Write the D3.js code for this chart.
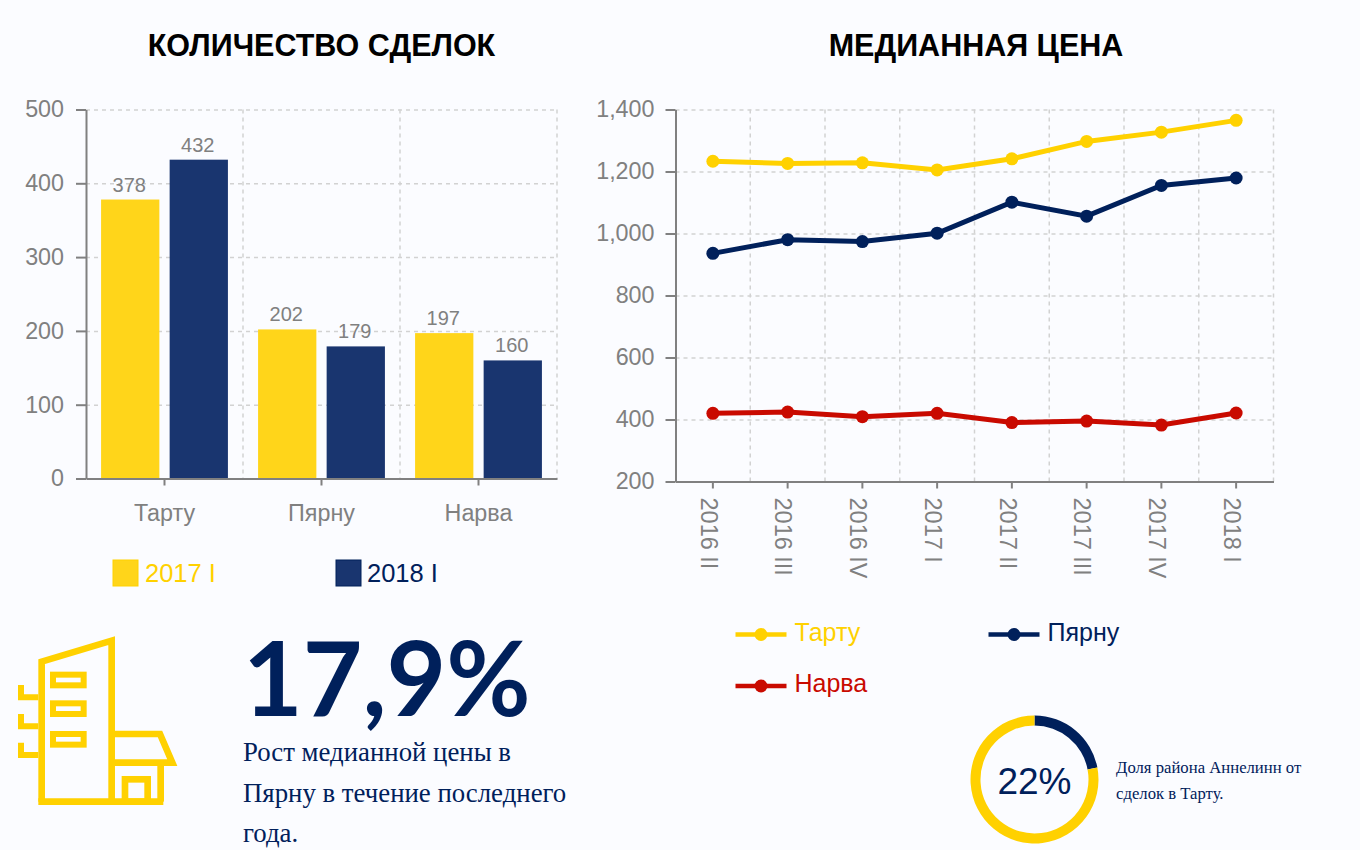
<!DOCTYPE html>
<html>
<head>
<meta charset="utf-8">
<script src="https://cdn.jsdelivr.net/npm/d3@7"></script>
<style>
  html, body { margin: 0; padding: 0; background: #fbfcff; }
  svg { display: block; font-family: "Liberation Sans", sans-serif; }
  .grid line { stroke: #d2d2d2; stroke-width: 1.5; stroke-dasharray: 4 4; }
  .grid path { display: none; }
  .axis path, .axis line { stroke: #808080; stroke-width: 2; }
  .axis text { fill: #808080; font-size: 23.3px; font-family: "Liberation Sans", sans-serif; }
</style>
</head>
<body>
<svg id="canvas" width="1360" height="850"></svg>
<script>
const canvas = d3.select('#canvas');
const yellow = '#ffd100';
const navy = '#00205b';
const red = '#c90a00';

// Bar chart data
const cities = ['Тарту', 'Пярну', 'Нарва'];
const barSeries = ['2017 I', '2018 I'];
const deals2017 = [378, 202, 197];
const deals2018 = [432, 179, 160];
const dealTicks = [0, 100, 200, 300, 400, 500];

// Line chart data
const quarters = ['2016 II', '2016 III', '2016 IV', '2017 I', '2017 II', '2017 III', '2017 IV', '2018 I'];
const priceTartu = [1233, 1226, 1228, 1205, 1241, 1297, 1327, 1365];
const priceParnu = [936, 980, 974, 1001, 1101, 1056, 1155, 1179];
const priceNarva = [420, 424, 409, 420, 390, 395, 382, 421];
const priceTicks = [200, 400, 600, 800, 1000, 1200, 1400];

// Donut data
const donutShare = [22, 78];

// Titles
canvas.append('text').attr('x', 321.5).attr('y', 56)
  .attr('text-anchor', 'middle').style('font-size', '30.5px').style('font-weight', 'bold')
  .style('fill', '#000').text('КОЛИЧЕСТВО СДЕЛОК');
canvas.append('text').attr('x', 976).attr('y', 56)
  .attr('text-anchor', 'middle').style('font-size', '30.5px').style('font-weight', 'bold')
  .style('fill', '#000').text('МЕДИАННАЯ ЦЕНА');

// ---- Bars ----
const barLeft = 86;
const barRight = 557;
const barTop = 109.5;
const barBottom = 478.5;
const xCity = d3.scaleBand().domain(cities).range([barLeft, barRight]);
const xSeries = d3.scaleBand().domain(barSeries).range([0, xCity.bandwidth()])
  .paddingInner(0.15).paddingOuter(0.22);
const yDeals = d3.scaleLinear().domain([0, 500]).range([barBottom, barTop]);

const barChart = canvas.append('g');
barChart.append('g').attr('class', 'grid')
  .attr('transform', `translate(${barLeft}, 0)`)
  .call(d3.axisLeft(yDeals).tickValues(dealTicks).tickSize(-(barRight - barLeft)).tickFormat(''));
barChart.append('g').attr('class', 'grid')
  .selectAll('line')
  .data(cities)
  .enter()
  .append('line')
  .attr('x1', (d) => xCity(d) + xCity.bandwidth())
  .attr('x2', (d) => xCity(d) + xCity.bandwidth())
  .attr('y1', barTop)
  .attr('y2', barBottom);

[deals2017, deals2018].forEach((values, s) => {
  const colour = s === 0 ? '#ffd51a' : '#19356f';
  barChart.selectAll(`.bar${s}`)
    .data(values)
    .enter()
    .append('rect')
    .attr('class', `bar${s}`)
    .attr('x', (d, i) => xCity(cities[i]) + xSeries(barSeries[s]))
    .attr('y', (d) => yDeals(d))
    .attr('width', xSeries.bandwidth())
    .attr('height', (d) => barBottom - yDeals(d))
    .style('fill', colour);
  barChart.selectAll(`.label${s}`)
    .data(values)
    .enter()
    .append('text')
    .attr('class', `label${s}`)
    .attr('x', (d, i) => xCity(cities[i]) + xSeries(barSeries[s]) + xSeries.bandwidth() / 2 - 1)
    .attr('y', (d) => yDeals(d) - 8)
    .attr('text-anchor', 'middle')
    .style('font-size', '20px')
    .style('fill', '#808080')
    .text((d) => d);
});

barChart.append('g').attr('class', 'axis')
  .attr('transform', `translate(${barLeft}, 0)`)
  .call(d3.axisLeft(yDeals).tickValues(dealTicks).tickSize(10).tickPadding(12).tickSizeOuter(0));
barChart.append('g').attr('class', 'axis')
  .attr('transform', `translate(0, ${barBottom})`)
  .call(d3.axisBottom(xCity).tickSize(7).tickPadding(19).tickSizeOuter(0));

// Bar legend
const barLegend = canvas.append('g');
barLegend.selectAll('rect')
  .data(barSeries)
  .enter()
  .append('rect')
  .attr('x', (d, i) => (i === 0 ? 113 : 336))
  .attr('y', 560)
  .attr('width', 25)
  .attr('height', 26)
  .style('fill', (d, i) => (i === 0 ? '#ffd51a' : '#19356f'))
  .style('stroke', (d, i) => (i === 0 ? yellow : navy));
barLegend.selectAll('text')
  .data(barSeries)
  .enter()
  .append('text')
  .attr('x', (d, i) => (i === 0 ? 145 : 367))
  .attr('y', 582)
  .style('font-size', '25.5px')
  .style('fill', (d, i) => (i === 0 ? yellow : navy))
  .text((d) => d);

// ---- Lines ----
const lineLeft = 675.5;
const lineRight = 1273.5;
const lineTop = 109.5;
const lineBottom = 481.5;
const xQuarter = d3.scaleBand().domain(quarters).range([lineLeft, lineRight]);
const yPrice = d3.scaleLinear().domain([200, 1400]).range([lineBottom, lineTop]);

const lineChart = canvas.append('g');
lineChart.append('g').attr('class', 'grid')
  .attr('transform', `translate(${lineLeft}, 0)`)
  .call(d3.axisLeft(yPrice).tickValues(priceTicks).tickSize(-(lineRight - lineLeft)).tickFormat(''));
lineChart.append('g').attr('class', 'grid')
  .selectAll('line')
  .data(quarters)
  .enter()
  .append('line')
  .attr('x1', (d) => xQuarter(d) + xQuarter.bandwidth())
  .attr('x2', (d) => xQuarter(d) + xQuarter.bandwidth())
  .attr('y1', lineTop)
  .attr('y2', lineBottom);

lineChart.append('g').attr('class', 'axis')
  .attr('transform', `translate(${lineLeft}, 0)`)
  .call(d3.axisLeft(yPrice).tickValues(priceTicks).tickFormat(d3.format(',')).tickSize(10).tickPadding(11).tickSizeOuter(0));
const lineAxis = lineChart.append('g').attr('class', 'axis')
  .attr('transform', `translate(0, ${lineBottom})`)
  .call(d3.axisBottom(xQuarter).tickSize(7).tickSizeOuter(0));
lineAxis.selectAll('text')
  .attr('transform', 'rotate(90)')
  .attr('x', 16)
  .attr('y', 4)
  .attr('dy', '0.35em')
  .style('text-anchor', 'start')
  .style('font-size', '23.5px');

const linePath = d3.line()
  .x((d, i) => xQuarter(quarters[i]) + xQuarter.bandwidth() / 2)
  .y((d) => yPrice(d));
[[priceTartu, yellow], [priceParnu, navy], [priceNarva, red]].forEach(([values, colour]) => {
  lineChart.append('path')
    .attr('d', linePath(values))
    .style('fill', 'none')
    .style('stroke', colour)
    .style('stroke-width', 5);
  lineChart.append('g').selectAll('circle')
    .data(values)
    .enter()
    .append('circle')
    .attr('cx', (d, i) => xQuarter(quarters[i]) + xQuarter.bandwidth() / 2)
    .attr('cy', (d) => yPrice(d))
    .attr('r', 6.5)
    .style('fill', colour);
});

// Line legend
const lineLegendNames = ['Тарту', 'Пярну', 'Нарва'];
const lineLegendColours = [yellow, navy, red];
const lineLegendX = [735.5, 988.5, 735.5];
const lineLegendY = [634.5, 634.5, 686];
lineLegendNames.forEach((name, i) => {
  const g = canvas.append('g').attr('transform', `translate(${lineLegendX[i]}, ${lineLegendY[i]})`);
  g.append('line').attr('x1', 0).attr('x2', 51)
    .style('stroke', lineLegendColours[i]).style('stroke-width', 4.5);
  g.append('circle').attr('cx', 25.5).attr('r', 6.5).style('fill', lineLegendColours[i]);
  g.append('text').attr('x', 59).attr('y', 6)
    .style('font-size', '25px').style('fill', lineLegendColours[i]).text(name);
});

// ---- Building icon ----
const icon = canvas.append('g')
  .attr('transform', 'translate(0, 620) scale(0.3333)')
  .style('fill', 'none')
  .style('stroke', yellow)
  .style('stroke-width', 20);
icon.append('path').attr('d', 'M125,545 V125 L335,62 V545');
icon.append('path').attr('d', 'M115,545 H490');
icon.append('path').attr('d', 'M335,342 H480 L517,428 H345');
icon.append('path').attr('d', 'M482,428 V545');
icon.append('rect').attr('x', 375).attr('y', 478).attr('width', 68).attr('height', 67);
[[159, 164], [159, 250], [159, 342]].forEach(([x, y]) => {
  icon.append('rect').attr('x', x).attr('y', y).attr('width', 92).attr('height', 32).style('stroke-width', 18);
});
[195, 282, 368].forEach((y) => {
  icon.append('path').attr('d', `M63,${y} V${y + 37} H115`).style('stroke-width', 18);
});

// ---- Big number ----
canvas.append('text').attr('x', 243).attr('y', 716)
  .style('font-family', 'Lato').style('font-weight', 'bold').style('font-size', '103px')
  .style('fill', navy).text('17,9%');
const growthText = ['Рост медианной цены в', 'Пярну в течение последнего', 'года.'];
canvas.append('g').selectAll('text')
  .data(growthText)
  .enter()
  .append('text')
  .attr('x', 243)
  .attr('y', (d, i) => 761 + i * 40.5)
  .style('font-family', '"Liberation Serif"')
  .style('font-size', '26.8px')
  .style('fill', navy)
  .text((d) => d);

// ---- Donut ----
const donut = canvas.append('g').attr('transform', 'translate(1034.5, 779.5)');
const pie = d3.pie().sort(null);
const arc = d3.arc().innerRadius(54).outerRadius(64);
donut.selectAll('path')
  .data(pie(donutShare))
  .enter()
  .append('path')
  .attr('d', arc)
  .style('fill', (d, i) => (i === 0 ? navy : yellow));
donut.append('text').attr('y', 14).attr('text-anchor', 'middle')
  .style('font-size', '37px').style('fill', navy).text(`${donutShare[0]}%`);
const donutText = ['Доля района Аннелинн от', 'сделок в Тарту.'];
canvas.append('g').selectAll('text')
  .data(donutText)
  .enter()
  .append('text')
  .attr('x', 1116)
  .attr('y', (d, i) => 773 + i * 26)
  .style('font-family', '"Liberation Serif"')
  .style('font-size', '16.7px')
  .style('fill', navy)
  .text((d) => d);
</script>
</body>
</html>
